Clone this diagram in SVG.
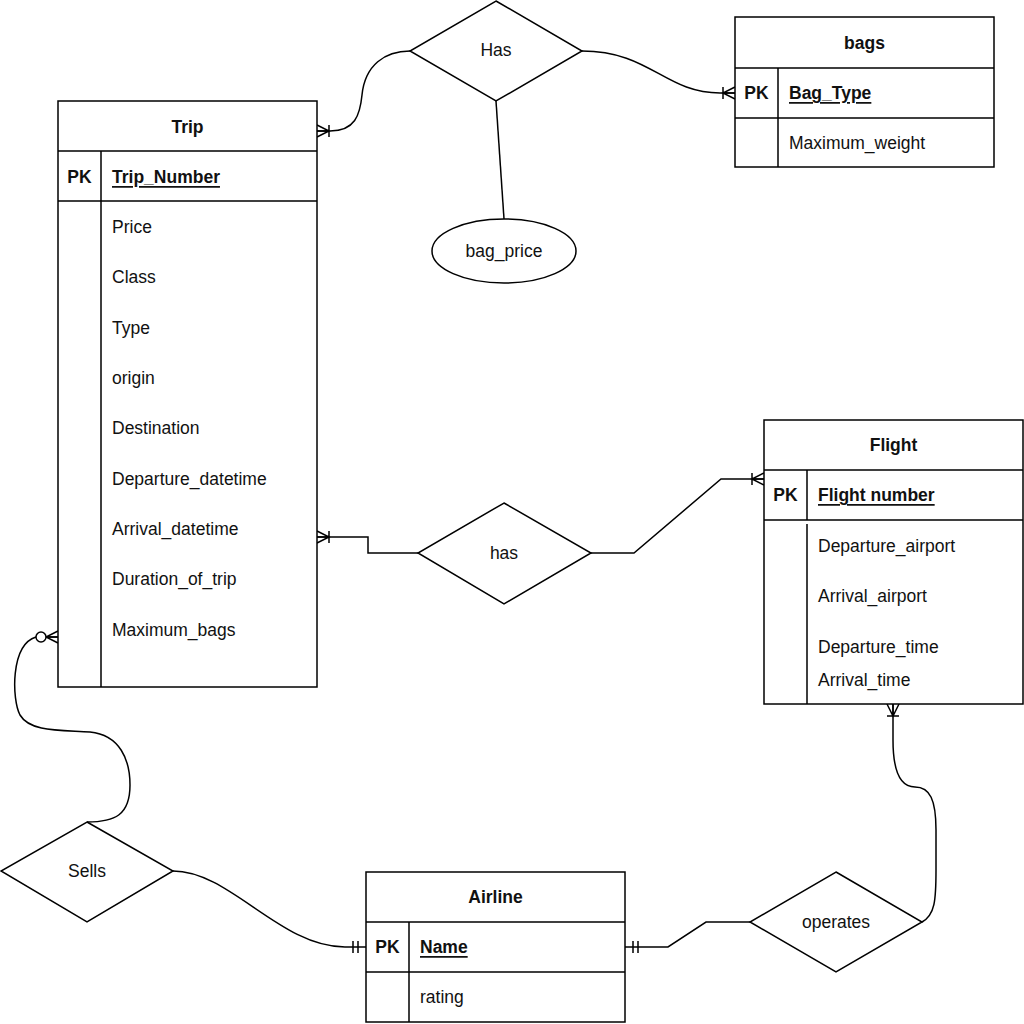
<svg xmlns="http://www.w3.org/2000/svg" width="1024" height="1024" viewBox="0 0 1024 1024">
<defs>
<style>
.box{fill:#fff;stroke:#000;stroke-width:1.5}
.ln{fill:none;stroke:#000;stroke-width:1.5}
text{font-family:"Liberation Sans",Arial,sans-serif;font-size:17.5px;fill:#111;dominant-baseline:central}
.t{font-weight:bold;text-anchor:middle}
.pk{font-weight:bold;text-anchor:middle}
.key{font-weight:bold;text-decoration:underline}
.c{text-anchor:middle}
</style>
<marker id="many" markerUnits="userSpaceOnUse" orient="auto" refX="0" refY="0" markerWidth="30" markerHeight="30" viewBox="-25 -15 30 30" overflow="visible">
<path d="M0,-6 L-12,0 L0,6 M0,0 L-12,0 M-12,-6 L-12,6" fill="none" stroke="#000" stroke-width="1.5"/>
</marker>
<marker id="zeroMany" markerUnits="userSpaceOnUse" orient="auto" refX="0" refY="0" markerWidth="30" markerHeight="30" viewBox="-25 -15 30 30" overflow="visible">
<path d="M0,-6 L-12,0 L0,6 M0,0 L-12,0" fill="none" stroke="#000" stroke-width="1.5"/>
<circle cx="-17" cy="0" r="5" fill="#fff" stroke="#000" stroke-width="1.5"/>
</marker>
<marker id="mandOne" markerUnits="userSpaceOnUse" orient="auto" refX="0" refY="0" markerWidth="30" markerHeight="30" viewBox="-25 -15 30 30" overflow="visible">
<path d="M-8,-6 L-8,6 M-13,-6 L-13,6" fill="none" stroke="#000" stroke-width="1.5"/>
</marker>
</defs>
<rect width="1024" height="1024" fill="#fff"/>

<g id="connectors">
<path class="ln" d="M410,51 C385,51 365,65 362,95 C360,115 355,131 330,131 L317,131" marker-end="url(#many)"/>
<path class="ln" d="M582,51 C650,51 665,93 720,93 L735,93" marker-end="url(#many)"/>
<path class="ln" d="M496,101 L504,219"/>
<path class="ln" d="M418,553 L368,553 L368,537 L317,537" marker-end="url(#many)"/>
<path class="ln" d="M591,553 L634,553 L721,479 L764,479" marker-end="url(#many)"/>
<path class="ln" d="M87,822 C115,822 130,815 130,785 C130,760 120,735 90,732 C60,730 30,732 20,715 C12,700 10,645 36,637 L58,637" marker-end="url(#zeroMany)"/>
<path class="ln" d="M173,871 C230,871 280,947 345,947 L366,947" marker-end="url(#mandOne)"/>
<path class="ln" d="M750,922 L706,922 L668,947 L625,947" marker-end="url(#mandOne)"/>
<path class="ln" d="M922,922 C935,915 936,900 936,870 L936,830 C936,800 930,787 915,787 C900,787 893,770 893,740 L893,704" marker-end="url(#many)"/>
</g>

<g id="trip">
<rect class="box" x="58" y="101" width="259" height="586"/>
<path class="ln" d="M58,151 H317 M58,201 H317 M101,151 V687"/>
<text class="t" x="187.5" y="127">Trip</text>
<text class="pk" x="79.5" y="177">PK</text>
<text class="key" x="112" y="177">Trip_Number</text>
<text x="112" y="227">Price</text>
<text x="112" y="277">Class</text>
<text x="112" y="328">Type</text>
<text x="112" y="378">origin</text>
<text x="112" y="428">Destination</text>
<text x="112" y="479">Departure_datetime</text>
<text x="112" y="529">Arrival_datetime</text>
<text x="112" y="579">Duration_of_trip</text>
<text x="112" y="630">Maximum_bags</text>
</g>

<g id="bags">
<rect class="box" x="735" y="17" width="259" height="150"/>
<path class="ln" d="M735,68 H994 M735,118 H994 M778,68 V167"/>
<text class="t" x="864.5" y="43">bags</text>
<text class="pk" x="756.5" y="93">PK</text>
<text class="key" x="789" y="93">Bag_Type</text>
<text x="789" y="143">Maximum_weight</text>
</g>

<g id="flight">
<rect class="box" x="764" y="420" width="259" height="284"/>
<path class="ln" d="M764,470 H1023 M764,520 H1023 M807,470 V520 M807,524 V704"/>
<text class="t" x="893.5" y="445">Flight</text>
<text class="pk" x="785.5" y="495">PK</text>
<text class="key" x="818" y="495">Flight number</text>
<text x="818" y="546">Departure_airport</text>
<text x="818" y="596">Arrival_airport</text>
<text x="818" y="647">Departure_time</text>
<text x="818" y="680">Arrival_time</text>
</g>

<g id="airline">
<rect class="box" x="366" y="872" width="259" height="150"/>
<path class="ln" d="M366,922 H625 M366,972 H625 M409,922 V1022"/>
<text class="t" x="495.5" y="897">Airline</text>
<text class="pk" x="387.5" y="947">PK</text>
<text class="key" x="420" y="947">Name</text>
<text x="420" y="997">rating</text>
</g>

<g id="rel-has-bags">
<polygon class="box" points="496,1 582,51 496,101 410,51"/>
<text class="c" x="496" y="50">Has</text>
</g>

<g id="bag_price">
<ellipse class="box" cx="504" cy="251" rx="72" ry="32"/>
<text class="c" x="504" y="251">bag_price</text>
</g>

<g id="rel-has-flight">
<polygon class="box" points="504,503 591,553 504,604 418,553"/>
<text class="c" x="504" y="553">has</text>
</g>

<g id="rel-sells">
<polygon class="box" points="87,822 173,871 87,922 1,871"/>
<text class="c" x="87" y="871">Sells</text>
</g>

<g id="rel-operates">
<polygon class="box" points="836,872 922,922 836,972 750,922"/>
<text class="c" x="836" y="922">operates</text>
</g>
</svg>
